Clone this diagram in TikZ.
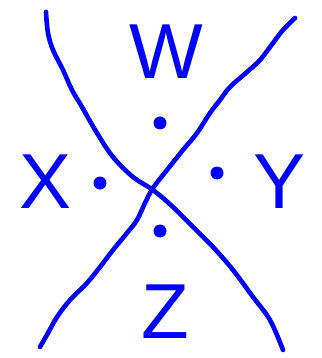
\documentclass[tikz,border=0pt]{standalone}
\usepackage{fontspec}
\setmainfont{Liberation Sans}
\usepackage{xcolor}
\usetikzlibrary{positioning}
\definecolor{pureblue}{RGB}{0,0,255}

\begin{document}
\begin{tikzpicture}[
  x=1pt, y=-1pt,
  lbl/.style={inner sep=0pt, text=pureblue, font=\fontsize{78}{78}\selectfont},
  pt/.style={circle, fill=pureblue, inner sep=0pt, minimum size=13pt},
  crv/.style={draw=pureblue, line width=4.6pt, line cap=round, line join=round},
]
\useasboundingbox (0,0) rectangle (321,358);
% region labels
\node[lbl] (w) at (166,52)  {W};
\node[lbl] (x) at (46,182)  {X};
\node[lbl] (y) at (280,182) {Y};
\node[lbl] (z) at (165,312) {Z};
% points
\node[pt] (pw) at (160,123) {};
\node[pt] (px) at (100,183) {};
\node[pt] (py) at (217,173) {};
\node[pt] (pz) at (160,231) {};
% the two crossing curves
\draw[crv] plot[smooth, tension=0.6] coordinates {
  (46,12) (48,33) (53,50) (63,70) (72,90) (82,107) (97,133) (113,157)
  (133,177) (153,190) (173,207) (193,227) (213,247) (233,270) (253,297)
  (270,320) (283,350)};
\draw[crv] plot[smooth, tension=0.6] coordinates {
  (295,18) (283,30) (273,43) (260,60) (247,72) (230,87) (220,100) (210,113)
  (197,133) (183,150) (167,170) (153,188) (145,203) (137,220) (127,233)
  (113,250) (100,267) (87,283) (70,300) (57,317) (48,333) (40,347)};
\end{tikzpicture}
\end{document}
